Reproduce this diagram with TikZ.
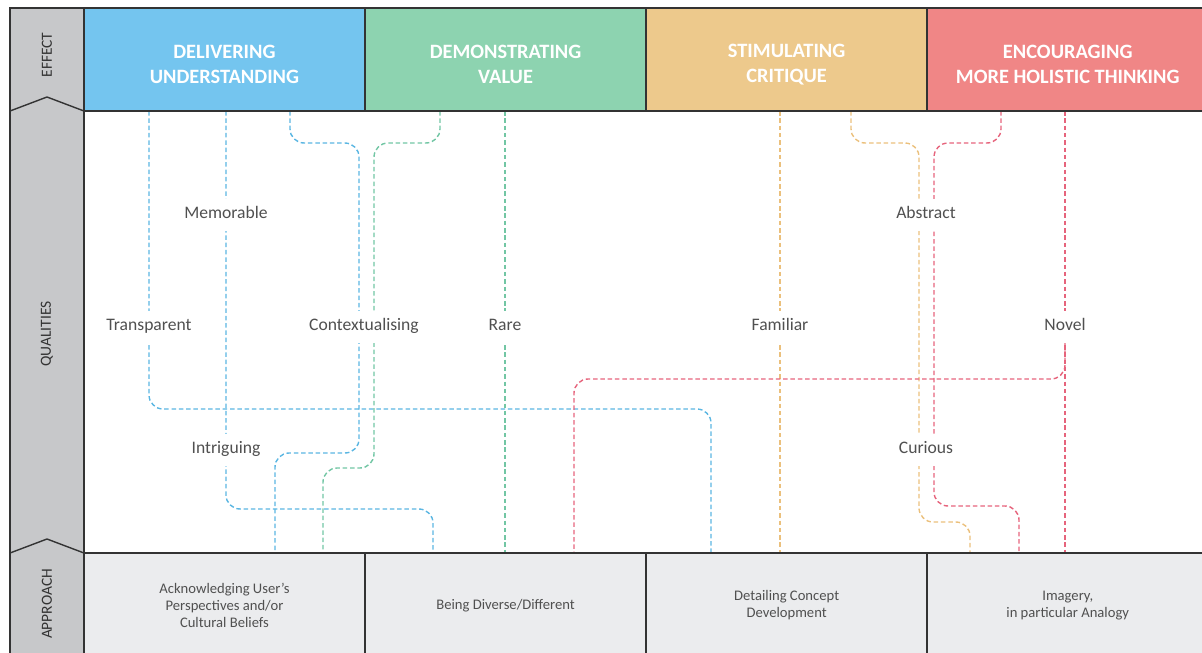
\documentclass[tikz,border=0pt]{standalone}
\usepackage{fontspec}
\setmainfont{Carlito}
\usepackage{xcolor}
\usepackage{tikz}
\usetikzlibrary{positioning, backgrounds, calc}

\definecolor{dlvblue}{HTML}{74C5EF}
\definecolor{demgreen}{HTML}{8DD3B0}
\definecolor{stiorange}{HTML}{EDC98C}
\definecolor{encred}{HTML}{F08686}
\definecolor{wayblue}{HTML}{5AB6E2}
\definecolor{waygreen}{HTML}{72C6A4}
\definecolor{wayorange}{HTML}{EBC07C}
\definecolor{wayred}{HTML}{E6647C}
\definecolor{sidegray}{HTML}{C7C8CA}
\definecolor{cellgray}{HTML}{EBECEE}
\definecolor{labelgray}{HTML}{505050}
\definecolor{framegray}{HTML}{333333}

% pushes the two-line titles a little below the middle of their cell
\newcommand{\headup}{\rule{0pt}{16.5pt}}

\tikzset{
  effcell/.style={rectangle, draw=framegray, line width=1pt, outer sep=0pt,
                  minimum width=7.025cm, minimum height=2.575cm, text=white,
                  align=center, font=\fontsize{14.5}{18}\selectfont\bfseries},
  appcell/.style={rectangle, draw=framegray, line width=1pt, outer sep=0pt,
                  fill=cellgray, minimum width=7.025cm, minimum height=2.625cm,
                  text=labelgray, align=center, font=\fontsize{10.4}{12.2}\selectfont},
  sidelabel/.style={rotate=90, text=framegray, font=\fontsize{11}{13}\selectfont},
  quality/.style={fill=white, inner xsep=2pt, inner ysep=6pt, text height=8pt,
                  text depth=2.5pt, text=labelgray, font=\fontsize{12.5}{14}\selectfont},
  way/.style={dash pattern=on 3.2pt off 2pt, line width=1pt, rounded corners=10pt},
}

\begin{document}
\begin{tikzpicture}[x=0.025cm, y=-0.025cm]
  \useasboundingbox (0,0) rectangle (1202,652);

  % side column with the three row titles
  \filldraw[fill=sidegray, draw=framegray, line width=1pt]
    (10,670) -- (10,8) -- (84,8) -- (84,670);
  \draw[framegray, line width=1pt] (10,111) -- (47,97) -- (84,111);
  \draw[framegray, line width=1pt] (10,553) -- (47,539) -- (84,553);
  \node[sidelabel] (effl) at (47,55) {EFFECT};
  \node[sidelabel] (quall) at (47,334) {QUALITIES};
  \node[sidelabel] (appl) at (47,604) {APPROACH};

  % effect row
  \node[effcell, fill=dlvblue] (dlv) at (224.5,59.5) {\headup DELIVERING\\UNDERSTANDING};
  \node[effcell, fill=demgreen, right=0pt of dlv] (dem) {\headup DEMONSTRATING\\VALUE};
  \node[effcell, fill=stiorange, right=0pt of dem] (sti) {\headup STIMULATING\\CRITIQUE};
  \node[effcell, fill=encred, right=0pt of sti] (enc) {\headup ENCOURAGING\\MORE HOLISTIC THINKING};

  % approach row
  \node[appcell] (ack) at (224.5,605.5)
    {Acknowledging User’s\\Perspectives and/or\\Cultural Beliefs};
  \node[appcell, right=0pt of ack] (div) {Being Diverse/Different};
  \node[appcell, right=0pt of div] (det) {Detailing Concept\\Development};
  \node[appcell, right=0pt of det] (ima) {Imagery,\\in particular Analogy};

  % qualities
  \node[quality] (tra) at (149,327) {Transparent};
  \node[quality] (mem) at (226,215) {Memorable};
  \node[quality] (int) at (226,450) {Intriguing};
  \node[quality] (ctx) at (364,327) {Contextualising};
  \node[quality] (rar) at (505,327) {Rare};
  \node[quality] (fam) at (780,327) {Familiar};
  \node[quality] (abs) at (926,215) {Abstract};
  \node[quality] (cur) at (926,450) {Curious};
  \node[quality] (nov) at (1065,327) {Novel};

  % ends of the bent ways
  \coordinate (tp-ctb) at (290,111);
  \coordinate (tp-ctg) at (440,111);
  \coordinate (tp-abo) at (851,111);
  \coordinate (tp-abr) at (1001,111);
  \coordinate (ft-tra) at (711,553);
  \coordinate (ft-int) at (433,553);
  \coordinate (ft-ctb) at (275,553);
  \coordinate (ft-ctg) at (323,553);
  \coordinate (ft-abo) at (970,553);
  \coordinate (ft-abr) at (1019,553);
  \coordinate (ft-nov) at (574,553);

  \begin{scope}[on background layer]
    \draw[way, wayblue] (tra |- dlv.south) |- (711,409) -- (ft-tra);
    \draw[way, wayblue] (mem |- dlv.south) |- (433,509) -- (ft-int);
    \draw[way, wayblue] (tp-ctb) -- (290,143) -| (359,453) -| (ft-ctb);
    \draw[way, waygreen] (tp-ctg) -- (440,143) -| (374,468) -| (ft-ctg);
    \draw[way, waygreen] (rar |- dem.south) -- (rar |- div.north);
    \draw[way, wayorange] (fam |- sti.south) -- (fam |- det.north);
    \draw[way, wayorange] (tp-abo) -- (851,143) -| (919,522) -| (ft-abo);
    \draw[way, wayred] (tp-abr) -- (1001,143) -| (934,506) -| (ft-abr);
    \draw[way, wayred] (nov |- enc.south) -- (nov |- ima.north);
    \draw[way, wayred] (nov.south) -- (1065,379) -| (ft-nov);
  \end{scope}
\end{tikzpicture}
\end{document}
